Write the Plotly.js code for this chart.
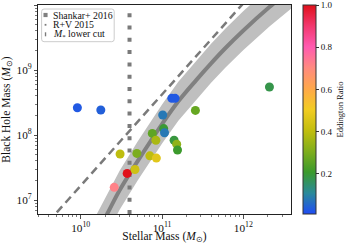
<!DOCTYPE html>
<html>
<head>
<meta charset="utf-8">
<script src="https://cdn.plot.ly/plotly-3.0.1.min.js"></script>
<style>html,body{margin:0;padding:0;background:#fff;}#chart{width:350px;height:244px;}</style>
</head>
<body>
<div id="chart"></div>
<script>
// ---- data (log10 values) ----
const logStellarMass = [9.959, 10.247, 11.12, 11.16, 11.41, 11.008, 11.02, 11.03, 10.88, 10.924, 11.148, 11.18, 11.19, 10.484, 10.69, 10.85, 10.93, 10.571, 10.667, 10.412, 12.32];
const logBHMass      = [8.42, 8.385, 8.565, 8.565, 8.38, 8.308, 8.10, 8.035, 8.026, 7.92, 7.92, 7.86, 7.77, 7.708, 7.718, 7.68, 7.646, 7.41, 7.47, 7.195, 8.74];
const eddingtonRatio = [0.03, 0.04, 0.03, 0.03, 0.27, 0.08, 0.20, 0.08, 0.26, 0.37, 0.19, 0.33, 0.21, 0.40, 0.30, 0.40, 0.47, 1.00, 0.43, 0.72, 0.18];

const shankarLogM   = [10.2, 10.325, 10.48, 10.7, 11.0, 11.2, 11.42, 11.6, 11.78, 12.0, 12.32, 12.6];
const shankarLogBH  = [6.49, 6.785, 7.154, 7.60, 8.17, 8.52, 8.846, 9.10, 9.34, 9.61, 9.97, 10.26];
const shankarUpper  = [6.79, 7.085, 7.454, 7.90, 8.47, 8.82, 9.146, 9.40, 9.64, 9.91, 10.27, 10.56];
const shankarLower  = [6.19, 6.485, 6.854, 7.30, 7.87, 8.22, 8.546, 8.80, 9.04, 9.31, 9.67, 9.96];

const rvLogM  = [9.6, 12.1];
const rvLogBH = [6.66, 10.17];

const cutLogM  = [10.6, 10.6];
const cutLogBH = [6.785, 10.0];

const legendLabels = ['Shankar+ 2016', 'R+V 2015', '<i>M</i><sub>*</sub> lower cut'];
const colorTicks = [0.2, 0.4, 0.6, 0.8, 1.0];

// ---- helpers ----
const p10 = a => a.map(v => Math.pow(10, v));
const FONT = 'Liberation Serif, Times New Roman, serif';
const L = 38, R = 53, T = 5, B = 30, W = 350, H = 244;
const PW = W - L - R, PH = H - T - B;
const px = x => (x - L) / PW;
const py = y => 1 - (y - T) / PH;

const colorscale = [
  [0.0, '#1f4cf5'], [0.1, '#2a8a9a'], [0.2, '#3b9a2c'], [0.3, '#80ae1c'],
  [0.4, '#c2be0e'], [0.5, '#f2cc22'], [0.6, '#ffa84a'], [0.7, '#ff8a80'],
  [0.8, '#ff5ab0'], [0.9, '#f2386e'], [1.0, '#e0101a']
];

const traces = [
  {x: p10(shankarLogM), y: p10(shankarLower), mode: 'lines', line: {width: 0, color: 'rgba(0,0,0,0)'}, showlegend: false, hoverinfo: 'skip'},
  {x: p10(shankarLogM), y: p10(shankarUpper), mode: 'lines', fill: 'tonexty', fillcolor: '#bfbfbf', line: {width: 0, color: 'rgba(0,0,0,0)'}, showlegend: false, hoverinfo: 'skip'},
  {x: p10(shankarLogM), y: p10(shankarLogBH), mode: 'lines', line: {width: 4, color: '#808080', shape: 'spline'}, showlegend: false},
  {x: p10(rvLogM), y: p10(rvLogBH), mode: 'lines', line: {width: 2.5, color: '#7a7a7a', dash: '8px,5px'}, showlegend: false},
  {x: p10(cutLogM), y: p10(cutLogBH), mode: 'lines', line: {width: 4, color: '#7a7a7a', dash: '4px,8.3px'}, showlegend: false},
  {x: p10(logStellarMass), y: p10(logBHMass), mode: 'markers', showlegend: false,
   marker: {size: 9, color: eddingtonRatio, cmin: 0.01, cmax: 1.0, colorscale: colorscale, line: {width: 0},
     showscale: true,
     colorbar: {x: px(309), xanchor: 'left', xpad: 0, ypad: 0, y: 1, yanchor: 'top',
       len: 209, lenmode: 'pixels', thickness: 13, thicknessmode: 'pixels',
       outlinewidth: 1, outlinecolor: '#333', ticks: 'outside', ticklen: 3, tickwidth: 1, tickcolor: '#333',
       tickvals: colorTicks, tickformat: '.1f', tickfont: {family: FONT, size: 9, color: '#111'},
       title: {text: 'Eddington Ratio', side: 'right', font: {family: FONT, size: 8.5, color: '#111'}}}}}
];

// manual legend
function roundRect(x0, y0, x1, y1, r) {
  const rx = r / PW, ry = r / PH;
  const X0 = px(x0), X1 = px(x1), Y0 = py(y0), Y1 = py(y1);
  return `M${X0 + rx},${Y0} L${X1 - rx},${Y0} Q${X1},${Y0} ${X1},${Y0 - ry} L${X1},${Y1 + ry} Q${X1},${Y1} ${X1 - rx},${Y1} L${X0 + rx},${Y1} Q${X0},${Y1} ${X0},${Y1 + ry} L${X0},${Y0 - ry} Q${X0},${Y0} ${X0 + rx},${Y0} Z`;
}
const rowY = [15, 24.8, 34.3];
const shapes = [
  {type: 'path', xref: 'paper', yref: 'paper', path: roundRect(41.7, 9, 116, 41.7, 2.5), fillcolor: 'rgba(255,255,255,0.85)', line: {color: '#cccccc', width: 1}},
  {type: 'rect', xref: 'paper', yref: 'paper', x0: px(43.6), x1: px(47.8), y0: py(rowY[0] - 2.1), y1: py(rowY[0] + 2.1), fillcolor: '#808080', line: {width: 0}},
  {type: 'rect', xref: 'paper', yref: 'paper', x0: px(44.8), x1: px(46.6), y0: py(rowY[1] - 0.9), y1: py(rowY[1] + 0.9), fillcolor: '#7a7a7a', line: {width: 0}},
  {type: 'rect', xref: 'paper', yref: 'paper', x0: px(45.0), x1: px(46.4), y0: py(rowY[2] - 2), y1: py(rowY[2] + 2), fillcolor: '#7a7a7a', line: {width: 0}}
];
const annotations = legendLabels.map((t, i) => ({
  xref: 'paper', yref: 'paper', x: px(52.5), y: py(rowY[i]), xanchor: 'left', yanchor: 'middle',
  text: t, showarrow: false, font: {family: FONT, size: 9.8, color: '#111'}, borderpad: 0
}));

const axisCommon = {
  type: 'log', dtick: 1, exponentformat: 'power', showgrid: false, zeroline: false,
  showline: true, linecolor: '#222', linewidth: 1, mirror: true,
  ticks: 'outside', ticklen: 3.5, tickwidth: 0.8, tickcolor: '#222',
  minor: {ticks: 'outside', ticklen: 2, tickwidth: 0.6, tickcolor: '#222', dtick: 'D1', showgrid: false},
  tickfont: {family: FONT, size: 9, color: '#111'}
};

const layout = {
  width: W, height: H,
  margin: {l: L, r: R, t: T, b: B, pad: 0},
  paper_bgcolor: '#fff', plot_bgcolor: '#fff',
  font: {family: FONT, color: '#111'},
  showlegend: false,
  xaxis: Object.assign({}, axisCommon, {range: [9.475, 12.585],
    title: {text: 'Stellar Mass (<i>M</i><sub>⊙</sub>)', font: {family: FONT, size: 11.5, color: '#111'}, standoff: 7}}),
  yaxis: Object.assign({}, axisCommon, {range: [6.785, 10.002],
    title: {text: 'Black Hole Mass (<i>M</i><sub>⊙</sub>)', font: {family: FONT, size: 11.5, color: '#111'}, standoff: 4}}),
  shapes: shapes,
  annotations: annotations
};

Plotly.newPlot('chart', traces, layout, {staticPlot: true, displayModeBar: false});
</script>
</body>
</html>
